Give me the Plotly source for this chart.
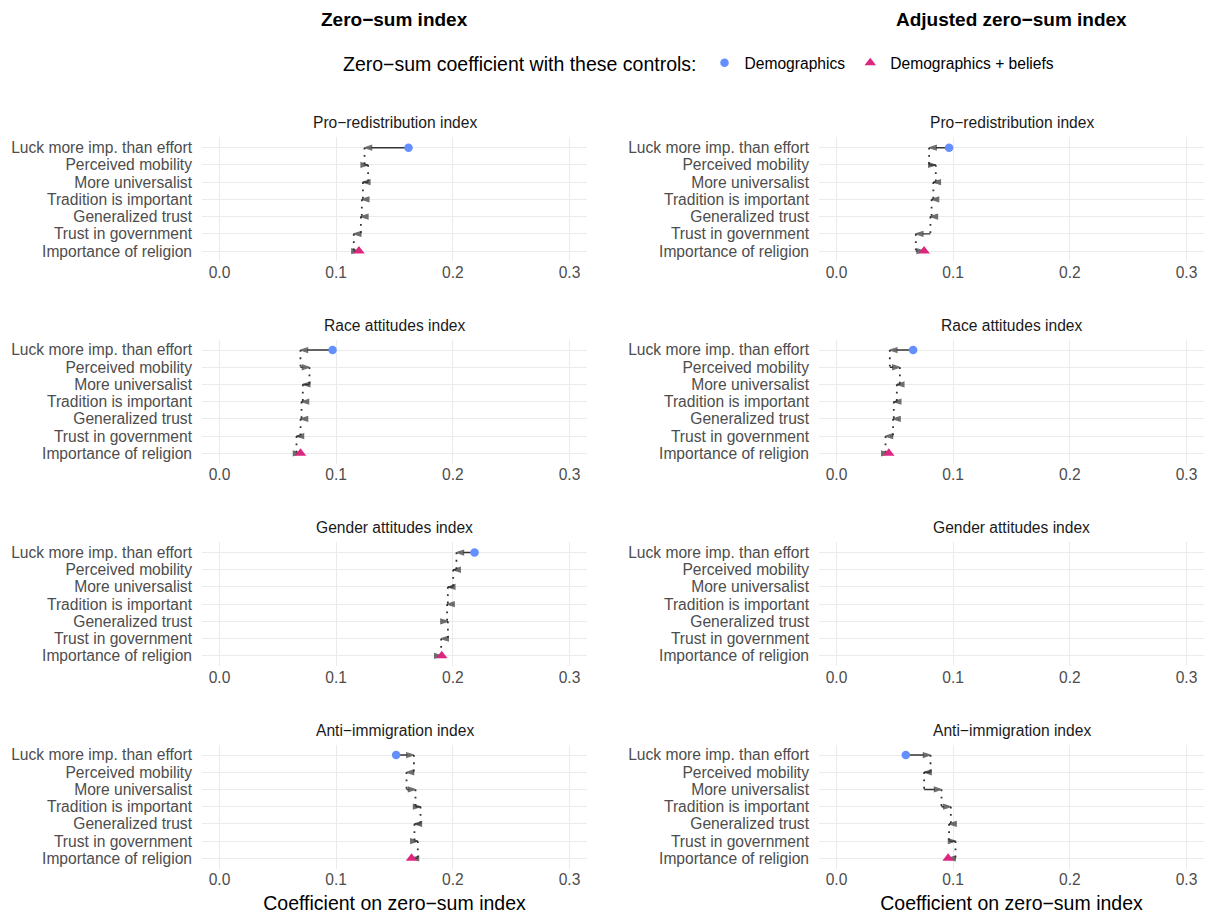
import plotly.graph_objects as go

W, H = 1209, 914
FONT = "Liberation Sans"

# ---------------- data ----------------
beliefs = [
    "Luck more imp. than effort",
    "Perceived mobility",
    "More universalist",
    "Tradition is important",
    "Generalized trust",
    "Trust in government",
    "Importance of religion",
]
outcomes = [
    "Pro\u2212redistribution index",
    "Race attitudes index",
    "Gender attitudes index",
    "Anti\u2212immigration index",
]
columns = ["Zero\u2212sum index", "Adjusted zero\u2212sum index"]
x_ticks = [0.0, 0.1, 0.2, 0.3]
x_tick_text = ["0.0", "0.1", "0.2", "0.3"]

# Coefficient on zero-sum index: demographics only, then after adding each
# belief control in turn (last value = demographics + all beliefs)
zs_redistribution = [0.1620, 0.1243, 0.1274, 0.1229, 0.1220, 0.1212, 0.1151, 0.1195]
zs_race = [0.0969, 0.0694, 0.0771, 0.0714, 0.0703, 0.0695, 0.0660, 0.0694]
zs_gender = [0.2186, 0.2031, 0.2003, 0.1957, 0.1951, 0.1958, 0.1900, 0.1905]
zs_immigration = [0.1514, 0.1666, 0.1603, 0.1680, 0.1723, 0.1671, 0.1700, 0.1646]

adj_redistribution = [0.0965, 0.0794, 0.0851, 0.0830, 0.0815, 0.0805, 0.0680, 0.0751]
adj_race = [0.0657, 0.0457, 0.0543, 0.0517, 0.0491, 0.0485, 0.0420, 0.0448]
adj_gender = []  # not estimated
adj_immigration = [0.0594, 0.0806, 0.0751, 0.0900, 0.0980, 0.0965, 0.1020, 0.0957]

panels = [
    [zs_redistribution, adj_redistribution],
    [zs_race, adj_race],
    [zs_gender, adj_gender],
    [zs_immigration, adj_immigration],
]

# ---------------- layout geometry (pixels) ----------------
col_x = [(202, 587), (819, 1204)]
row_top = [137.4, 339.7, 542.2, 744.7]
row_h = 124.0

BLUE = "#648FFF"
PINK = "#DC267F"
ARROW = "#333333"
GRID = "#EBEBEB"

fig = go.Figure()
layout_axes = {}
annotations = []

k = 0
for r in range(4):
    for c in range(2):
        k += 1
        xa = "x" if k == 1 else f"x{k}"
        ya = "y" if k == 1 else f"y{k}"
        x0, x1 = col_x[c]
        top = row_top[r]
        bot = top + row_h
        layout_axes["xaxis" if k == 1 else f"xaxis{k}"] = dict(
            domain=[x0 / W, x1 / W],
            anchor=ya,
            range=[-0.015, 0.315],
            tickmode="array",
            tickvals=x_ticks,
            ticktext=x_tick_text,
            showgrid=True,
            gridcolor=GRID,
            gridwidth=1.4,
            zeroline=False,
            showline=False,
            ticks="",
            tickfont=dict(family=FONT, size=15.6, color="#4D4D4D"),
            title=dict(
                text="Coefficient on zero\u2212sum index" if r == 3 else "",
                font=dict(family=FONT, size=19.5, color="#000000"),
                standoff=9,
            ),
            fixedrange=True,
        )
        layout_axes["yaxis" if k == 1 else f"yaxis{k}"] = dict(
            domain=[1 - bot / H, 1 - top / H],
            anchor=xa,
            type="category",
            categoryorder="array",
            categoryarray=beliefs,
            range=[6.6, -0.6],
            tickmode="array",
            tickvals=beliefs,
            ticktext=beliefs,
            showgrid=True,
            gridcolor=GRID,
            gridwidth=1.4,
            zeroline=False,
            showline=False,
            ticks="",
            ticklabelstandoff=9,
            tickfont=dict(family=FONT, size=15.6, color="#4D4D4D"),
            fixedrange=True,
        )
        # strip title
        annotations.append(dict(
            text=outcomes[r], xref="paper", yref="paper",
            x=(x0 + x1) / 2 / W, y=1 - (top - 14.4) / H,
            xanchor="center", yanchor="middle", showarrow=False,
            font=dict(family=FONT, size=15.6, color="#1A1A1A"),
        ))

        vals = panels[r][c]
        if not vals:
            # keep category axis alive with an invisible trace
            fig.add_trace(go.Scatter(x=[None], y=[beliefs[0]], xaxis=xa, yaxis=ya,
                                     mode="markers", showlegend=False, hoverinfo="skip"))
            continue
        # dotted connectors between consecutive steps
        dx, dy = [], []
        for i in range(len(beliefs) - 1):
            dx += [vals[i + 1], vals[i + 1], None]
            dy += [beliefs[i], beliefs[i + 1], None]
        fig.add_trace(go.Scatter(
            x=dx, y=dy, xaxis=xa, yaxis=ya, mode="lines",
            line=dict(color=ARROW, width=1.8, dash="1.8px,5.5px"),
            showlegend=False, hoverinfo="skip",
        ))
        # arrows for each added control
        for i, b in enumerate(beliefs):
            fig.add_trace(go.Scatter(
                x=[vals[i], vals[i + 1]], y=[b, b], xaxis=xa, yaxis=ya,
                mode="lines+markers",
                line=dict(color=ARROW, width=1.4),
                marker=dict(symbol="arrow", angleref="previous", size=[0, 7.5],
                            color=ARROW, line=dict(width=1.2, color=ARROW)),
                showlegend=False, hoverinfo="skip",
            ))
        # start (demographics) and end (demographics + beliefs)
        fig.add_trace(go.Scatter(
            x=[vals[0]], y=[beliefs[0]], xaxis=xa, yaxis=ya, mode="markers",
            marker=dict(symbol="circle", size=8.5, color=BLUE, line=dict(width=0)),
            name="Demographics", legendgroup="d", showlegend=(k == 1),
            hoverinfo="skip",
        ))
        fig.add_trace(go.Scatter(
            x=[vals[-1]], y=[beliefs[-1]], xaxis=xa, yaxis=ya, mode="markers",
            marker=dict(symbol="triangle-up", size=10, color=PINK, line=dict(width=0)),
            name="Demographics + beliefs", legendgroup="b", showlegend=(k == 1),
            hoverinfo="skip",
        ))

# column titles
for c in range(2):
    x0, x1 = col_x[c]
    annotations.append(dict(
        text=f"<b>{columns[c]}</b>", xref="paper", yref="paper",
        x=(x0 + x1) / 2 / W, y=1 - 19 / H, xanchor="center", yanchor="middle",
        showarrow=False, font=dict(family=FONT, size=19, color="#000000"),
    ))

fig.update_layout(
    width=W, height=H,
    margin=dict(l=0, r=0, t=0, b=0),
    paper_bgcolor="white", plot_bgcolor="white",
    font=dict(family=FONT),
    annotations=annotations,
    legend=dict(
        orientation="h", x=341 / W, xanchor="left", y=1 - 64 / H, yanchor="middle",
        title=dict(text="Zero\u2212sum coefficient with these controls:",
                   side="left", font=dict(family=FONT, size=19.5, color="#000000")),
        font=dict(family=FONT, size=15.6, color="#000000"),
        bgcolor="rgba(0,0,0,0)",
    ),
    **layout_axes,
)

fig.write_html("out.html")
